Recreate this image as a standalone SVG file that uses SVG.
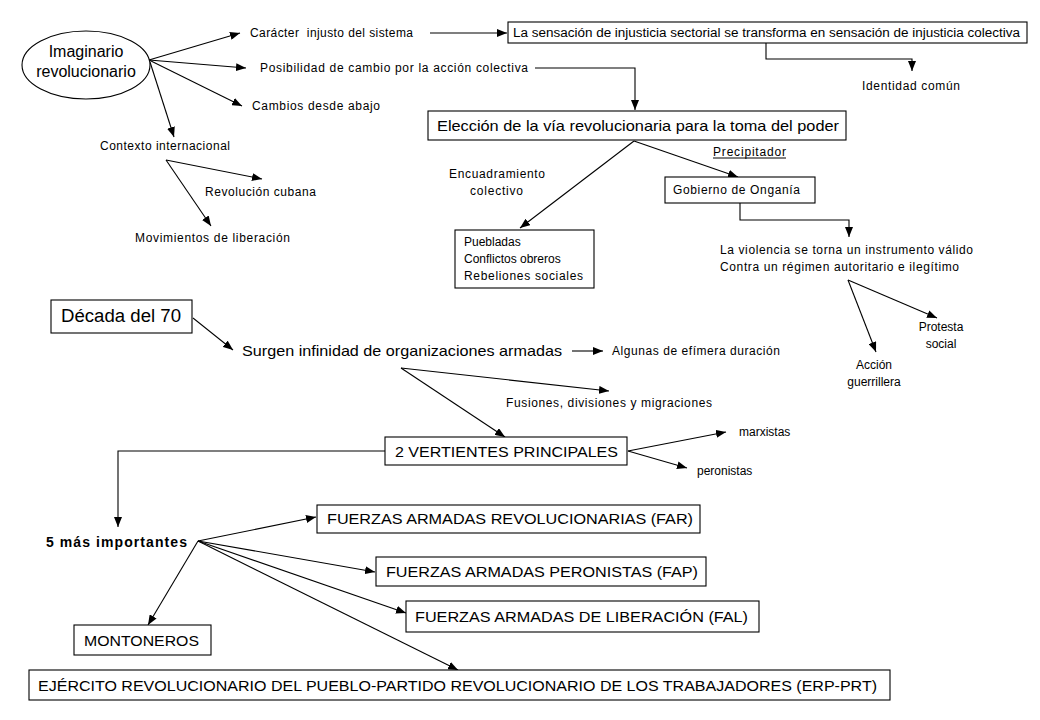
<svg xmlns="http://www.w3.org/2000/svg" width="1040" height="720" viewBox="0 0 1040 720">
<defs>
<marker id="ah" markerUnits="userSpaceOnUse" markerWidth="10" markerHeight="8" refX="10" refY="4" orient="auto">
<path d="M0,0 L10,4 L0,8 z" fill="#000"/>
</marker>
</defs>
<style>
text{font-family:"Liberation Sans",Arial,sans-serif;fill:#000}
.s{font-size:12px}
.m{font-size:15px}
.b{fill:#fff;stroke:#000;stroke-width:1.1}
.c line,.c polyline{stroke:#000;stroke-width:1.1;fill:none;marker-end:url(#ah)}
</style>
<rect width="1040" height="720" fill="#fff"/>

<g class="c" id="connectors">
<line x1="149" y1="60" x2="240" y2="33"/>
<line x1="149" y1="60" x2="246" y2="68"/>
<line x1="149" y1="60" x2="242" y2="106"/>
<line x1="150" y1="62" x2="174" y2="137"/>
<line x1="166" y1="160" x2="262" y2="179"/>
<line x1="166" y1="160" x2="211" y2="226"/>
<line x1="430" y1="33" x2="507" y2="33"/>
<polyline points="766,43 766,59 912,59 912,71"/>
<polyline points="535,68 635,68 635,110"/>
<line x1="634" y1="141" x2="520" y2="228"/>
<line x1="634" y1="141" x2="738" y2="177"/>
<polyline points="740,203 740,220 849,220 849,237"/>
<line x1="848" y1="280" x2="937" y2="318"/>
<line x1="848" y1="280" x2="876" y2="352"/>
<line x1="193" y1="318" x2="233" y2="350"/>
<line x1="572" y1="351" x2="603" y2="351"/>
<line x1="401" y1="368" x2="609" y2="391"/>
<line x1="401" y1="368" x2="505" y2="437"/>
<line x1="628" y1="451" x2="726" y2="432"/>
<line x1="628" y1="451" x2="687" y2="468"/>
<polyline points="385,451 118,451 118,527"/>
<line x1="198" y1="541" x2="316" y2="517"/>
<line x1="198" y1="541" x2="375" y2="572"/>
<line x1="198" y1="541" x2="406" y2="613"/>
<line x1="198" y1="541" x2="148" y2="625"/>
<line x1="198" y1="541" x2="458" y2="670"/>
</g>

<g id="n-imaginario">
<ellipse class="b" cx="86" cy="65" rx="64" ry="34"/>
<text x="86" y="57" text-anchor="middle" style="font-size:16px">Imaginario</text>
<text x="86" y="77" text-anchor="middle" style="font-size:16px">revolucionario</text>
</g>
<g id="n-caracter"><text class="s" x="250" y="37" textLength="163" xml:space="preserve">Carácter  injusto del sistema</text></g>
<g id="n-posibilidad"><text class="s" x="260" y="72" textLength="268">Posibilidad de cambio por la acción colectiva</text></g>
<g id="n-cambios"><text class="s" x="252" y="110" textLength="128">Cambios desde abajo</text></g>
<g id="n-contexto"><text class="s" x="100" y="150" textLength="130">Contexto internacional</text></g>
<g id="n-cubana"><text class="s" x="205" y="196" textLength="111">Revolución cubana</text></g>
<g id="n-movimientos"><text class="s" x="135" y="242" textLength="155">Movimientos de liberación</text></g>

<g id="n-sensacion">
<rect class="b" x="508" y="22" width="519" height="21"/>
<text class="s" x="513" y="37" textLength="507" lengthAdjust="spacingAndGlyphs">La sensación de injusticia sectorial se transforma en sensación de injusticia colectiva</text>
</g>
<g id="n-identidad"><text class="s" x="862" y="90" textLength="98">Identidad común</text></g>

<g id="n-eleccion">
<rect class="b" x="428" y="111" width="418" height="29"/>
<text class="m" x="437" y="131" textLength="402" lengthAdjust="spacingAndGlyphs">Elección de la vía revolucionaria para la toma del poder</text>
</g>
<g id="n-encuadramiento">
<text class="s" x="449" y="178" textLength="96">Encuadramiento</text>
<text class="s" x="470" y="195" textLength="53">colectivo</text>
</g>
<g id="n-precipitador">
<text class="s" x="713" y="156" textLength="73">Precipitador</text>
<line x1="713" y1="158" x2="786" y2="158" stroke="#000" stroke-width="1"/>
</g>
<g id="n-gobierno">
<rect class="b" x="665" y="177" width="150" height="26"/>
<text class="s" x="673" y="194" textLength="127">Gobierno de Onganía</text>
</g>
<g id="n-puebladas">
<rect class="b" x="455" y="230" width="139" height="58"/>
<text class="s" x="464" y="246">Puebladas</text>
<text class="s" x="464" y="263">Conflictos obreros</text>
<text class="s" x="464" y="280" textLength="119">Rebeliones sociales</text>
</g>
<g id="n-violencia">
<text class="s" x="720" y="254" textLength="253">La violencia se torna un instrumento válido</text>
<text class="s" x="720" y="271" textLength="239">Contra un régimen autoritario e ilegítimo</text>
</g>
<g id="n-protesta">
<text class="s" x="941" y="331" text-anchor="middle">Protesta</text>
<text class="s" x="941" y="348" text-anchor="middle">social</text>
</g>
<g id="n-accion">
<text class="s" x="874" y="369" text-anchor="middle">Acción</text>
<text class="s" x="874" y="386" text-anchor="middle">guerrillera</text>
</g>

<g id="n-decada">
<rect class="b" x="51" y="300" width="141" height="33"/>
<text x="61" y="322" style="font-size:18px" textLength="120" lengthAdjust="spacingAndGlyphs">Década del 70</text>
</g>
<g id="n-surgen"><text class="m" x="242" y="356" textLength="320" lengthAdjust="spacingAndGlyphs">Surgen infinidad de organizaciones armadas</text></g>
<g id="n-algunas"><text class="s" x="612" y="355" textLength="168">Algunas de efímera duración</text></g>
<g id="n-fusiones"><text class="s" x="506" y="407" textLength="206">Fusiones, divisiones y migraciones</text></g>
<g id="n-vertientes">
<rect class="b" x="385" y="437" width="242" height="28"/>
<text class="m" x="395" y="457" textLength="223" lengthAdjust="spacingAndGlyphs">2 VERTIENTES PRINCIPALES</text>
</g>
<g id="n-marxistas"><text class="s" x="739" y="436">marxistas</text></g>
<g id="n-peronistas"><text class="s" x="697" y="475">peronistas</text></g>
<g id="n-cinco"><text x="46" y="547" style="font-size:14px;font-weight:bold" textLength="141">5 más importantes</text></g>
<g id="n-far">
<rect class="b" x="317" y="505" width="383" height="28"/>
<text class="m" x="327" y="524" textLength="366" lengthAdjust="spacingAndGlyphs">FUERZAS ARMADAS REVOLUCIONARIAS (FAR)</text>
</g>
<g id="n-fap">
<rect class="b" x="376" y="557" width="330" height="29"/>
<text class="m" x="386" y="577" textLength="312" lengthAdjust="spacingAndGlyphs">FUERZAS ARMADAS PERONISTAS (FAP)</text>
</g>
<g id="n-fal">
<rect class="b" x="406" y="601" width="353" height="31"/>
<text class="m" x="415" y="622" textLength="333" lengthAdjust="spacingAndGlyphs">FUERZAS ARMADAS DE LIBERACIÓN (FAL)</text>
</g>
<g id="n-montoneros">
<rect class="b" x="74" y="625" width="137" height="30"/>
<text class="m" x="84" y="646" textLength="115" lengthAdjust="spacingAndGlyphs">MONTONEROS</text>
</g>
<g id="n-erp">
<rect class="b" x="29" y="670" width="861" height="30"/>
<text class="m" x="38" y="691" textLength="839" lengthAdjust="spacingAndGlyphs">EJÉRCITO REVOLUCIONARIO DEL PUEBLO-PARTIDO REVOLUCIONARIO DE LOS TRABAJADORES (ERP-PRT)</text>
</g>
</svg>
